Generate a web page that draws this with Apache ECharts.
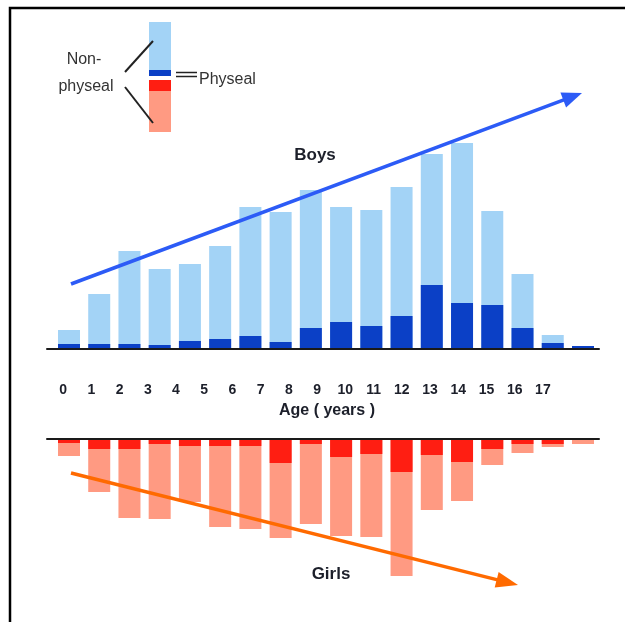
<!DOCTYPE html>
<html>
<head>
<meta charset="utf-8">
<script src="https://cdn.jsdelivr.net/npm/echarts@6/dist/echarts.min.js"></script>
<style>
html,body{margin:0;padding:0;background:#fff;}
#chart{width:625px;height:622px;}
</style>
</head>
<body>
<div id="chart"></div>
<script>
// ---- data (arbitrary units) ----
const ages = [0,1,2,3,4,5,6,7,8,9,10,11,12,13,14,15,16,17];
const tickLabels = ['0','1','2','3','4','5','6','7','8','9','10','11','12','13','14','15','16','17'];
const boysPhyseal    = [5,5,5,4,8,10,13,7,21,27,23,33,64,46,44,21,6,3];
const boysNonPhyseal = [14,50,93,76,77,93,129,130,138,115,116,129,131,160,94,54,8,0];
const girlsPhyseal    = [4,10,10,5,7,7,7,24,5,18,15,33,16,23,10,5,5,0];
const girlsNonPhyseal = [13,43,69,75,56,81,83,75,80,79,83,104,55,39,16,9,3,5];

const C_LB = '#a3d3f6', C_DB = '#0b40c6', C_RD = '#ff1e12', C_SA = '#ff9a82';
const FONT = '"Liberation Sans", Arial, sans-serif';
const TXT = '#1c1f2a';

// stacked top = physeal + non-physeal (the light part sits on the dark part)
const stackTop = (a,b) => a.map((v,i)=>v+b[i]);
const pairs = v => ages.map((a,i)=>[a, v[i]]);

const chart = echarts.init(document.getElementById('chart'), null, {renderer:'canvas'});

function barSeries(name, data, color, xi, z){
  return {name, type:'bar', xAxisIndex:xi, yAxisIndex:xi, data:pairs(data), z,
    barWidth:22, barGap:'-100%', itemStyle:{color}, silent:true, animation:false};
}

function arrow(x1,y1,x2,y2,color,hl,hw,lw){
  const dx=x2-x1, dy=y2-y1, L=Math.hypot(dx,dy), ux=dx/L, uy=dy/L;
  const bx=x2-ux*hl, by=y2-uy*hl;
  return [
    {type:'line', shape:{x1,y1,x2:bx+ux*2,y2:by+uy*2}, style:{stroke:color, lineWidth:lw}, z:10},
    {type:'polygon', shape:{points:[[x2,y2],[bx-uy*hw,by+ux*hw],[bx+uy*hw,by-ux*hw]]}, style:{fill:color}, z:10}
  ];
}

const option = {
  backgroundColor:'#fff',
  animation:false,
  grid:[
    {left:47, right:26, top:129, height:220},
    {left:47, right:26, top:439, height:150},
    {left:49, right:68, top:378, height:1}
  ],
  xAxis:[
    {type:'value', gridIndex:0, min:-0.727, max:17.53, axisLine:{show:true, onZero:false, lineStyle:{color:'#1a1a1a', width:2}},
      axisTick:{show:false}, axisLabel:{show:false}, splitLine:{show:false}, z:5},
    {type:'value', gridIndex:1, position:'top', min:-0.727, max:17.53, axisLine:{show:true, onZero:false, lineStyle:{color:'#1a1a1a', width:2}},
      axisTick:{show:false}, axisLabel:{show:false}, splitLine:{show:false}, z:5},
    {type:'category', gridIndex:2, data:tickLabels, axisLine:{show:false}, axisTick:{show:false},
      axisLabel:{margin:4, fontFamily:FONT, fontWeight:'bold', fontSize:14, color:TXT}}
  ],
  yAxis:[
    {type:'value', gridIndex:0, min:0, max:220, show:false},
    {type:'value', gridIndex:1, min:0, max:150, inverse:true, show:false},
    {type:'value', gridIndex:2, show:false}
  ],
  series:[
    barSeries('Boys non-physeal', stackTop(boysPhyseal, boysNonPhyseal), C_LB, 0, 2),
    barSeries('Boys physeal', boysPhyseal, C_DB, 0, 3),
    barSeries('Girls non-physeal', stackTop(girlsPhyseal, girlsNonPhyseal), C_SA, 1, 2),
    barSeries('Girls physeal', girlsPhyseal, C_RD, 1, 3)
  ],
  graphic:[
    // frame
    {type:'polyline', shape:{points:[[10,622],[10,8],[625,8]]}, style:{stroke:'#000', lineWidth:2.5, fill:null}},
    // legend swatch
    {type:'rect', shape:{x:149,y:22,width:22,height:48}, style:{fill:C_LB}},
    {type:'rect', shape:{x:149,y:70,width:22,height:6}, style:{fill:C_DB}},
    {type:'rect', shape:{x:149,y:80,width:22,height:11}, style:{fill:C_RD}},
    {type:'rect', shape:{x:149,y:91,width:22,height:41}, style:{fill:C_SA}},
    {type:'line', shape:{x1:125,y1:72,x2:153,y2:41}, style:{stroke:'#222', lineWidth:2}},
    {type:'line', shape:{x1:125,y1:87,x2:153,y2:123}, style:{stroke:'#222', lineWidth:2}},
    {type:'line', shape:{x1:176,y1:72.5,x2:197,y2:72.5}, style:{stroke:'#222', lineWidth:1.5}},
    {type:'line', shape:{x1:176,y1:76.5,x2:197,y2:76.5}, style:{stroke:'#222', lineWidth:1.5}},
    {type:'text', style:{x:84,y:60,text:'Non-',fill:'#333',font:'16px '+FONT,align:'center',verticalAlign:'middle'}},
    {type:'text', style:{x:86,y:87,text:'physeal',fill:'#333',font:'16px '+FONT,align:'center',verticalAlign:'middle'}},
    {type:'text', style:{x:199,y:80,text:'Physeal',fill:'#333',font:'16px '+FONT,align:'left',verticalAlign:'middle'}},
    // titles
    {type:'text', style:{x:315,y:155,text:'Boys',fill:TXT,font:'bold 17px '+FONT,align:'center',verticalAlign:'middle'}},
    {type:'text', style:{x:331,y:574,text:'Girls',fill:TXT,font:'bold 17px '+FONT,align:'center',verticalAlign:'middle'}},
    {type:'text', style:{x:327,y:411,text:'Age ( years )',fill:TXT,font:'bold 16px '+FONT,align:'center',verticalAlign:'middle'}},
    // trend arrows
    ...arrow(71,284,582,93,'#2c5bf6',20,8,3.5),
    ...arrow(71,473,518,585,'#ff6a00',22,8,3.5)
  ]
};
chart.setOption(option);
</script>
</body>
</html>
